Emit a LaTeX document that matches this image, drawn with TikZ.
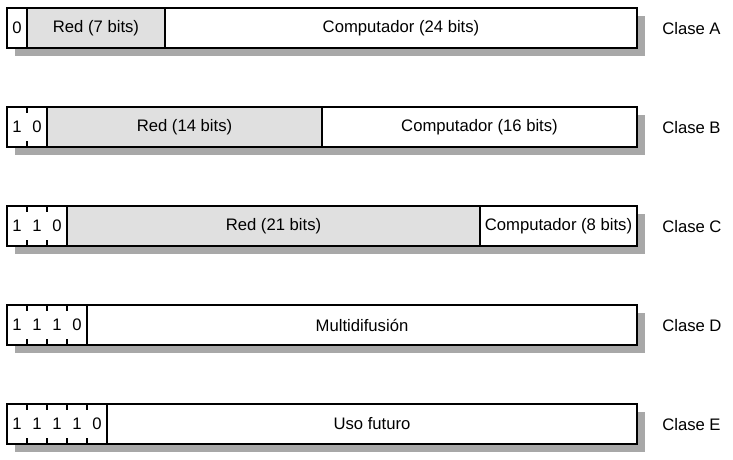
\documentclass[tikz,border=0pt]{standalone}
\usepackage{fontspec}
\setmainfont{Liberation Sans}
\definecolor{netgray}{RGB}{224,224,224}
\definecolor{shadowgray}{RGB}{168,168,168}
\begin{document}
\begin{tikzpicture}[x=0.75pt,y=-0.75pt,
  font=\fontsize{12.5}{15}\selectfont,
  frame/.style={draw=black, line width=1.1pt},
  divider/.style={draw=black, line width=0.8pt},
  bitmark/.style={draw=black, line width=0.8pt},
  txt/.style={inner sep=0pt},
  cls/.style={anchor=west, inner sep=0pt}]
\useasboundingbox (0,0) rectangle (733,460);

% ---------- Clase A ----------
\fill[shadowgray] (15,16) rectangle (645,56);
\fill[white] (7,8) rectangle (637,48);
\fill[netgray] (27,8) rectangle (165,48);
\draw[divider] (27,8) -- (27,48) (165,8) -- (165,48);
\draw[frame] (7,8) rectangle (637,48);
\node[txt] (a0) at (17,28) {0};
\node[txt] (ared) at (96,28) {Red (7 bits)};
\node[txt] (ahost) at (401,28) {Computador (24 bits)};
\node[cls] (aclass) at (662,29) {Clase A};

% ---------- Clase B ----------
\fill[shadowgray] (15,115) rectangle (645,155);
\fill[white] (7,107) rectangle (637,147);
\fill[netgray] (47,107) rectangle (322,147);
\draw[divider] (47,107) -- (47,147) (322,107) -- (322,147);
\draw[bitmark] (27,107) -- ++(0,6) (27,147) -- ++(0,-6);
\draw[frame] (7,107) rectangle (637,147);
\node[txt] (b1) at (17,127) {1};
\node[txt] (b2) at (37,127) {0};
\node[txt] (bred) at (184.5,127) {Red (14 bits)};
\node[txt] (bhost) at (479.5,127) {Computador (16 bits)};
\node[cls] (bclass) at (662,128) {Clase B};

% ---------- Clase C ----------
\fill[shadowgray] (15,214) rectangle (645,254);
\fill[white] (7,206) rectangle (637,246);
\fill[netgray] (67,206) rectangle (480,246);
\draw[divider] (67,206) -- (67,246) (480,206) -- (480,246);
\foreach \x in {27,47}
  \draw[bitmark] (\x,206) -- ++(0,6) (\x,246) -- ++(0,-6);
\draw[frame] (7,206) rectangle (637,246);
\node[txt] (c1) at (17,226) {1};
\node[txt] (c2) at (37,226) {1};
\node[txt] (c3) at (57,226) {0};
\node[txt] (cred) at (273.5,226) {Red (21 bits)};
\node[txt] (chost) at (558.5,226) {Computador (8 bits)};
\node[cls] (cclass) at (662,227) {Clase C};

% ---------- Clase D ----------
\fill[shadowgray] (15,313) rectangle (645,353);
\fill[white] (7,305) rectangle (637,345);
\draw[divider] (87,305) -- (87,345);
\foreach \x in {27,47,67}
  \draw[bitmark] (\x,305) -- ++(0,6) (\x,345) -- ++(0,-6);
\draw[frame] (7,305) rectangle (637,345);
\node[txt] (d1) at (17,325) {1};
\node[txt] (d2) at (37,325) {1};
\node[txt] (d3) at (57,325) {1};
\node[txt] (d4) at (77,325) {0};
\node[txt] (dmulti) at (362,325) {Multidifusión};
\node[cls] (dclass) at (662,326) {Clase D};

% ---------- Clase E ----------
\fill[shadowgray] (15,412) rectangle (645,452);
\fill[white] (7,404) rectangle (637,444);
\draw[divider] (107,404) -- (107,444);
\foreach \x in {27,47,67,87}
  \draw[bitmark] (\x,404) -- ++(0,6) (\x,444) -- ++(0,-6);
\draw[frame] (7,404) rectangle (637,444);
\node[txt] (e1) at (17,424) {1};
\node[txt] (e2) at (37,424) {1};
\node[txt] (e3) at (57,424) {1};
\node[txt] (e4) at (77,424) {1};
\node[txt] (e5) at (97,424) {0};
\node[txt] (efut) at (372,424) {Uso futuro};
\node[cls] (eclass) at (662,425) {Clase E};
\end{tikzpicture}
\end{document}
